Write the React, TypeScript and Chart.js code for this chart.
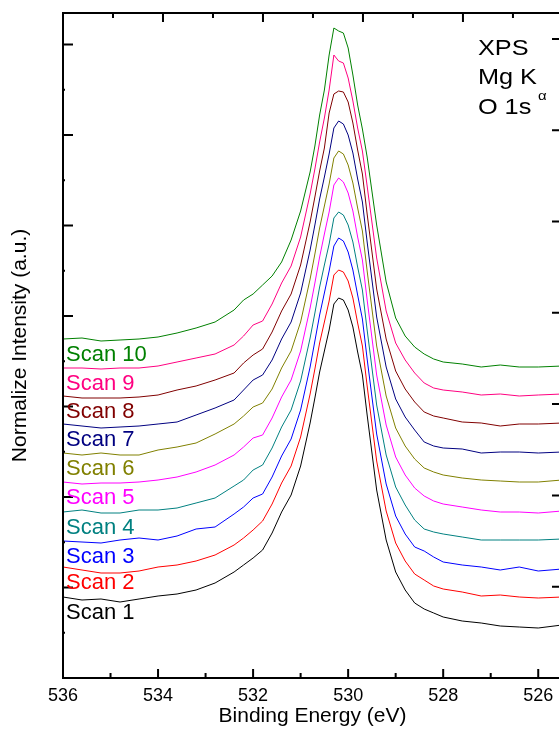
import React, { useEffect, useRef } from 'react';
import { Chart, registerables } from 'chart.js';

Chart.register(...registerables);

// Binding energy grid (eV)
const energyEV = [536.0, 535.6, 535.2, 534.8, 534.4, 534.0, 533.6, 533.2, 532.8, 532.4, 532.2, 532.0, 531.8, 531.6, 531.4, 531.2, 531.0, 530.8, 530.7, 530.6, 530.5, 530.4, 530.3, 530.2, 530.1, 530.0, 529.9, 529.8, 529.7, 529.6, 529.4, 529.2, 529.0, 528.8, 528.6, 528.4, 528.2, 528.0, 527.6, 527.2, 526.8, 526.4, 526.0, 525.5];

// Normalized intensities (a.u., stacked)
const scan1 = [81, 78, 79, 76, 79, 82, 84, 88, 95, 106, 113, 120, 128, 145, 166, 183, 212, 255, 280, 306, 327, 348, 374, 380, 378, 368, 351, 326, 303, 263, 188, 138, 106, 88, 75, 69, 65, 61, 57, 55, 52, 51, 50, 53];
const scan2 = [111, 108, 105, 105, 107, 111, 113, 117, 123, 133, 140, 148, 157, 174, 195, 212, 241, 284, 309, 335, 356, 377, 403, 408, 406, 397, 380, 355, 332, 292, 217, 167, 135, 117, 104, 98, 92, 89, 86, 82, 83, 81, 80, 81];
const scan3 = [137, 136, 135, 138, 140, 138, 142, 149, 151, 164, 171, 180, 184, 201, 222, 239, 268, 311, 337, 363, 385, 407, 432, 440, 437, 426, 408, 383, 359, 319, 244, 194, 162, 144, 131, 127, 121, 116, 113, 111, 108, 111, 107, 109];
const scan4 = [166, 168, 165, 165, 168, 168, 170, 175, 180, 192, 198, 208, 213, 230, 251, 268, 297, 340, 365, 391, 413, 434, 460, 466, 463, 453, 436, 411, 388, 348, 273, 223, 191, 173, 158, 149, 146, 144, 141, 138, 138, 138, 138, 139];
const scan5 = [196, 194, 195, 195, 196, 198, 201, 206, 213, 223, 231, 240, 243, 260, 281, 298, 327, 370, 395, 421, 444, 466, 493, 500, 496, 485, 467, 441, 418, 378, 303, 253, 221, 203, 190, 182, 177, 174, 171, 168, 166, 166, 165, 167];
const scan6 = [225, 223, 225, 223, 223, 228, 231, 235, 244, 254, 262, 271, 275, 289, 310, 327, 356, 399, 424, 450, 472, 494, 520, 527, 524, 513, 495, 470, 447, 407, 332, 282, 250, 232, 219, 210, 206, 203, 200, 198, 197, 196, 196, 198];
const scan7 = [254, 252, 250, 251, 252, 254, 256, 263, 270, 278, 288, 298, 303, 318, 339, 356, 385, 428, 453, 479, 501, 524, 550, 557, 554, 543, 525, 499, 476, 436, 361, 311, 279, 261, 248, 236, 232, 230, 229, 225, 226, 226, 225, 226];
const scan8 = [282, 280, 280, 280, 281, 283, 288, 292, 298, 305, 315, 323, 329, 346, 367, 384, 413, 456, 481, 507, 530, 565, 584, 587, 586, 576, 555, 528, 504, 464, 389, 339, 307, 289, 276, 266, 262, 260, 256, 255, 252, 254, 254, 255];
const scan9 = [310, 310, 309, 310, 310, 312, 316, 320, 324, 333, 342, 353, 357, 374, 395, 412, 441, 484, 509, 536, 560, 588, 623, 617, 615, 600, 577, 550, 527, 492, 420, 367, 335, 318, 305, 295, 290, 288, 286, 283, 284, 282, 283, 284];
const scan10 = [339, 340, 337, 338, 339, 341, 345, 350, 356, 368, 378, 384, 393, 402, 416, 438, 467, 506, 532, 563, 588, 623, 650, 647, 645, 630, 603, 573, 549, 521, 453, 396, 360, 342, 331, 324, 319, 316, 314, 311, 313, 311, 311, 312];

const scanNames = ['Scan 1', 'Scan 2', 'Scan 3', 'Scan 4', 'Scan 5', 'Scan 6', 'Scan 7', 'Scan 8', 'Scan 9', 'Scan 10'];
const scanColors = ['#000000', '#FF0000', '#0000FF', '#008080', '#FF00FF', '#808000', '#000080', '#800000', '#FF0080', '#008000'];
const scanSeries = [scan1, scan2, scan3, scan4, scan5, scan6, scan7, scan8, scan9, scan10];

// Axis ticks
const xTickLabels = [536, 534, 532, 530, 528, 526];
const xMinorTicks = [535, 533, 531, 529, 527];
const X_MIN = 525.5;
const X_MAX = 536;
const TOP_STEP = 1.052;
const Y_MIN = 0;
const Y_MAX = 665;
const Y_STEP = 90.5;
const RIGHT_STEP = 91.3;

// Annotation text
const annotLines = ['XPS', 'Mg K', 'O 1s'];
const annotX = 527.27;
const annotY = [623, 594, 564];

const FONT_LABEL = '"Liberation Sans", Arial, sans-serif';

const framePlugin = {
  id: 'framePlugin',
  afterDraw(chart: any) {
    const { ctx, chartArea } = chart;
    const { left, right, top, bottom } = chartArea;
    const x = chart.scales.x;
    const y = chart.scales.y;
    ctx.save();
    ctx.strokeStyle = '#000';
    ctx.lineWidth = 2;
    ctx.strokeRect(left, top, right - left, bottom - top);
    ctx.beginPath();
    for (const v of xTickLabels) {
      const px = x.getPixelForValue(v);
      ctx.moveTo(px, bottom);
      ctx.lineTo(px, bottom - 9);
    }
    for (const v of xMinorTicks) {
      const px = x.getPixelForValue(v);
      ctx.moveTo(px, bottom);
      ctx.lineTo(px, bottom - 5);
    }
    for (let k = 1; X_MAX - k * TOP_STEP >= X_MIN; k++) {
      const px = x.getPixelForValue(X_MAX - k * TOP_STEP);
      const len = k % 2 === 0 ? 9 : 5;
      ctx.moveTo(px, top);
      ctx.lineTo(px, top + len);
    }
    for (let k = 1; (k * Y_STEP) / 2 <= Y_MAX; k++) {
      const py = y.getPixelForValue((k * Y_STEP) / 2);
      const len = k % 2 === 0 ? 10 : 2;
      ctx.moveTo(left, py);
      ctx.lineTo(left + len, py);
    }
    for (let k = 1; k * RIGHT_STEP <= Y_MAX; k++) {
      const py = y.getPixelForValue(k * RIGHT_STEP);
      ctx.moveTo(right, py);
      ctx.lineTo(right - 10, py);
    }
    ctx.stroke();

    // scan labels
    ctx.font = '22px ' + FONT_LABEL;
    ctx.textAlign = 'left';
    ctx.textBaseline = 'alphabetic';
    scanSeries.forEach((s, i) => {
      ctx.fillStyle = scanColors[i];
      const px = x.getPixelForValue(energyEV[0]) + 3;
      const py = y.getPixelForValue(s[0]) + 22;
      ctx.fillText(scanNames[i], px, py);
    });

    // annotation
    ctx.fillStyle = '#000';
    annotLines.forEach((t, i) => {
      ctx.save();
      ctx.translate(x.getPixelForValue(annotX), y.getPixelForValue(annotY[i]));
      ctx.scale(1.15, 1);
      ctx.font = '22px ' + FONT_LABEL;
      ctx.fillText(t, 0, 0);
      if (t === 'Mg K') {
        const w = ctx.measureText(t).width;
        ctx.font = '13px ' + FONT_LABEL;
        ctx.fillText('\u03B1', w + 1, 16);
      }
      ctx.restore();
    });
    ctx.restore();
  },
};

export default function App() {
  const canvasRef = useRef<HTMLCanvasElement | null>(null);

  useEffect(() => {
    document.body.style.margin = '0';
    const canvas = canvasRef.current;
    if (!canvas) return;
    const datasets = scanSeries.map((s, i) => ({
      label: scanNames[i],
      data: energyEV.map((e, j) => ({ x: e, y: s[j] })),
      borderColor: scanColors[i],
      backgroundColor: scanColors[i],
      borderWidth: 1,
      pointRadius: 0,
      tension: 0,
      fill: false,
    }));
    const chart = new Chart(canvas, {
      type: 'line',
      data: { datasets },
      options: {
        animation: false,
        responsive: false,
        maintainAspectRatio: false,
        devicePixelRatio: 1,
        layout: { padding: { left: 0, top: 13, right: 38, bottom: 0 } },
        plugins: {
          legend: { display: false },
          tooltip: { enabled: false },
        },
        scales: {
          x: {
            type: 'linear',
            reverse: true,
            min: X_MIN,
            max: X_MAX,
            afterBuildTicks: (s: any) => {
              s.ticks = xTickLabels.map((v) => ({ value: v }));
            },
            afterFit: (s: any) => {
              s.height = 64;
            },
            grid: { display: false },
            border: { display: false },
            ticks: {
              autoSkip: false,
              maxRotation: 0,
              minRotation: 0,
              padding: -1,
              color: '#000',
              font: { family: FONT_LABEL, size: 18 },
              callback: (v: any) => String(v),
            },
            title: {
              display: true,
              text: 'Binding Energy (eV)',
              color: '#000',
              font: { family: FONT_LABEL, size: 21 },
              padding: { top: 0, bottom: 13 },
            },
          },
          y: {
            type: 'linear',
            min: Y_MIN,
            max: Y_MAX,
            afterFit: (s: any) => {
              s.width = 63;
            },
            grid: { display: false },
            border: { display: false },
            ticks: { display: false },
            title: {
              display: true,
              text: 'Normalize Intensity (a.u.)',
              color: '#000',
              font: { family: FONT_LABEL, size: 21 },
              padding: { top: 7.6, bottom: 0 },
            },
          },
        },
      },
      plugins: [framePlugin],
    });
    return () => chart.destroy();
  }, []);

  return (
    <div style={{ width: 559, height: 742, overflow: 'hidden', position: 'relative', background: '#fff' }}>
      <canvas ref={canvasRef} width={600} height={742} style={{ display: 'block', width: 600, height: 742 }} />
    </div>
  );
}
